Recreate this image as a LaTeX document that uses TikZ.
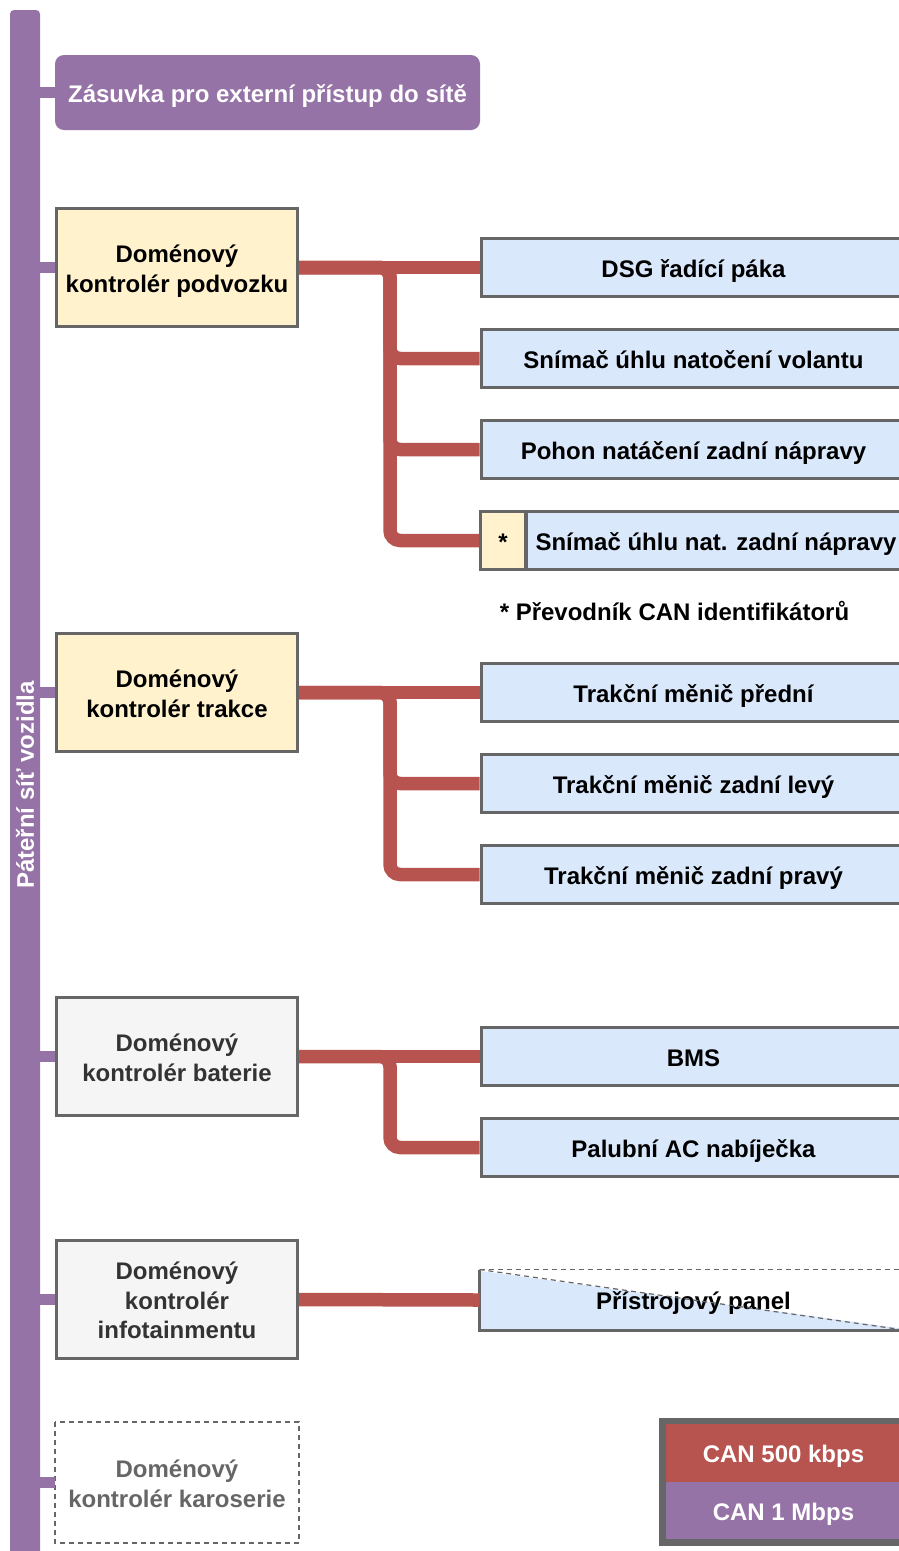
\documentclass[tikz,border=0pt]{standalone}
\usepackage{fontspec}
\setmainfont{Liberation Sans}
\usetikzlibrary{positioning,fit}
\definecolor{canred}{HTML}{B85450}
\definecolor{canpurple}{HTML}{9673A6}
\definecolor{ecublue}{HTML}{DAE8FC}
\definecolor{ctrlyellow}{HTML}{FFF2CC}
\definecolor{ctrlgray}{HTML}{F5F5F5}
\definecolor{edgegray}{HTML}{666666}
\definecolor{textgray}{HTML}{333333}
\tikzset{one line/.style = {text height = 26pt, text depth = 7pt}}
\tikzset{ctrl box/.style = {draw = edgegray, line width = 3pt, minimum width = 241pt, minimum height = 118pt, align = center, inner sep = 0pt, text height = 56pt, text depth = 7pt}}
\tikzset{ecu box/.style = {draw = edgegray, line width = 3pt, fill = ecublue, minimum width = 425pt, minimum height = 58pt, inner sep = 0pt, one line}}
\tikzset{can500 line/.style = {draw = canred, line width = 13.5pt, rounded corners = 10pt}}
\tikzset{can1 line/.style = {draw = canpurple, line width = 11pt}}
\tikzset{dashed edge/.style = {draw = edgegray, line width = 1.2pt, dash pattern = on 5pt off 4pt}}
\tikzset{key box/.style = {minimum width = 235pt, minimum height = 57.5pt, inner sep = 0pt, text = white, one line}}

\begin{document}
\begin{tikzpicture}[x = 1pt, y = -1pt, font = \fontsize{24}{29.5}\selectfont\bfseries]

  \useasboundingbox (0 , 0) rectangle (899 , 1551);

  \def\ctrlx{177}
  \def\ecux{693.5}
  \def\joinx{390}

  \node [fill = canpurple, rounded corners = 4pt, rotate = 90, minimum width = 1550pt, minimum height = 30pt, inner sep = 0pt, text = white] (bar) at (25 , 785) {Páteřní síť vozidla};

  \node [fill = canpurple, rounded corners = 9pt, minimum width = 425pt, minimum height = 75pt, inner sep = 0pt, text = white, one line] (socket) at (267.5 , 92.5) {Zásuvka pro externí přístup do sítě};

  \node [ctrl box, fill = ctrlyellow] (podvozek) at (\ctrlx , 267.5) {Doménový\\kontrolér podvozku};
  \node [ctrl box, fill = ctrlyellow] (trakce) at (\ctrlx , 692.5) {Doménový\\kontrolér trakce};
  \node [ctrl box, fill = ctrlgray, text = textgray] (baterie) at (\ctrlx , 1056.5) {Doménový\\kontrolér baterie};
  \node [ctrl box, fill = ctrlgray, text = textgray, text height = 85.5pt] (infotainment) at (\ctrlx , 1299.5) {Doménový\\kontrolér\\infotainmentu};
  \node [ctrl box, draw = none, text = edgegray] (karoserie) at (\ctrlx , 1482.5) {Doménový\\kontrolér karoserie};
  \draw [dashed edge] (karoserie.north west) rectangle (karoserie.south east);

  \node [ecu box] (dsg) at (\ecux , 267.5) {DSG řadící páka};
  \node [ecu box] (volant) at (\ecux , 358.5) {Snímač úhlu natočení volantu};
  \node [ecu box] (pohon) at (\ecux , 449.5) {Pohon natáčení zadní nápravy};
  \node [ecu box, minimum width = 45pt, fill = ctrlyellow] (prevodnik) at (503 , 540.5) {*};
  \node [ecu box, minimum width = 380pt] (natzadni) at (716 , 540.5) {Snímač úhlu nat. zadní nápravy};
  \node [one line] (poznamka) at (674.5 , 611) {* Převodník CAN identifikátorů};

  \node [ecu box] (menicpredni) at (\ecux , 692.5) {Trakční měnič přední};
  \node [ecu box] (meniclevy) at (\ecux , 783.5) {Trakční měnič zadní levý};
  \node [ecu box] (menicpravy) at (\ecux , 874.5) {Trakční měnič zadní pravý};

  \node [ecu box] (bms) at (\ecux , 1056.5) {BMS};
  \node [ecu box] (nabijecka) at (\ecux , 1147.5) {Palubní AC nabíječka};

  \node [ecu box, draw = none, fill = none, path picture = {\fill [ecublue] (path picture bounding box.north west) -- (path picture bounding box.south east) -- (path picture bounding box.south west) -- cycle;}] (panel) at (\ecux , 1300) {Přístrojový panel};
  \draw [draw = edgegray, line width = 3pt] (panel.north west) -- (panel.south west) -- (panel.south east);
  \draw [dashed edge] (panel.north west) -- (panel.north east);
  \draw [dashed edge] (panel.north west) -- (panel.south east);

  \coordinate (jpodvozek) at (\joinx , 267.5);
  \coordinate (jtrakce) at (\joinx , 692.5);
  \coordinate (jbaterie) at (\joinx , 1056.5);

  \draw [can500 line] (podvozek.east) -- (dsg.west);
  \draw [can500 line] (podvozek.east) -- (jpodvozek) |- (volant.west);
  \draw [can500 line] (podvozek.east) -- (jpodvozek) |- (pohon.west);
  \draw [can500 line] (podvozek.east) -- (jpodvozek) |- (prevodnik.west);

  \draw [can500 line] (trakce.east) -- (menicpredni.west);
  \draw [can500 line] (trakce.east) -- (jtrakce) |- (meniclevy.west);
  \draw [can500 line] (trakce.east) -- (jtrakce) |- (menicpravy.west);

  \draw [can500 line] (baterie.east) -- (bms.west);
  \draw [can500 line] (baterie.east) -- (jbaterie) |- (nabijecka.west);

  \draw [can500 line] (infotainment.east) -- (panel.west);

  \draw [can1 line] (bar.south |- socket.west) -- (socket.west);
  \draw [can1 line] (bar.south |- podvozek.west) -- (podvozek.west);
  \draw [can1 line] (bar.south |- trakce.west) -- (trakce.west);
  \draw [can1 line] (bar.south |- baterie.west) -- (baterie.west);
  \draw [can1 line] (bar.south |- infotainment.west) -- (infotainment.west);
  \draw [can1 line] (bar.south |- karoserie.west) -- (karoserie.west);

  \node [key box, fill = canred] (can500key) at (783.5 , 1453) {CAN 500 kbps};
  \node [key box, fill = canpurple] (can1key) at (783.5 , 1510.5) {CAN 1 Mbps};
  \node [fit = (can500key) (can1key), draw = edgegray, line width = 6.5pt, inner sep = 3.25pt] (legenda) {};

\end{tikzpicture}
\end{document}
